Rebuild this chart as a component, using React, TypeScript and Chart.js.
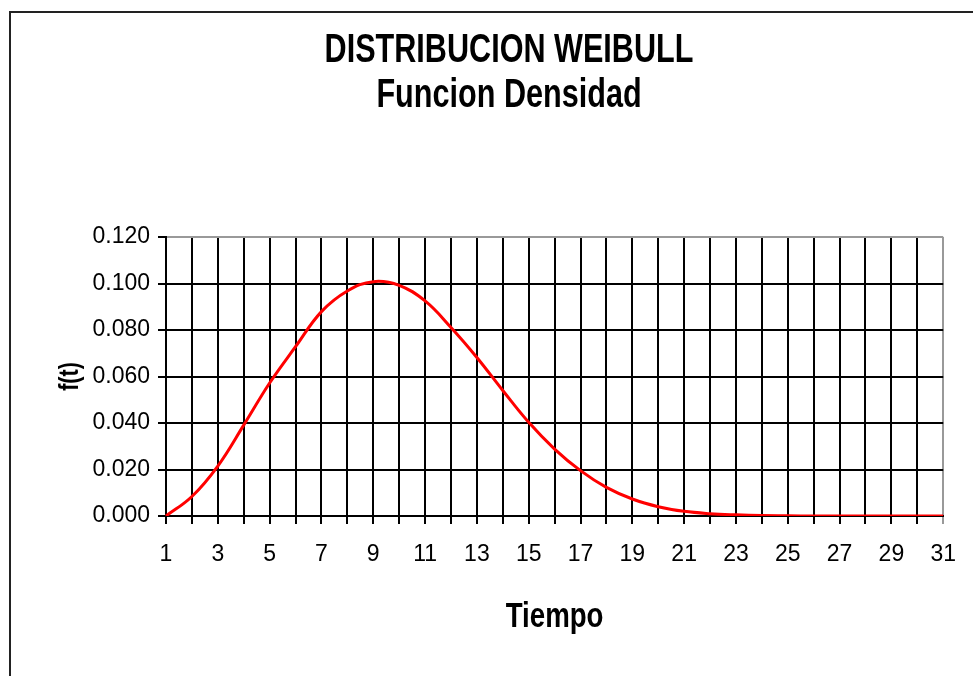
import React, { useEffect, useRef } from "react";
import { Chart, registerables } from "chart.js";

Chart.register(...registerables);

const tiempo: string[] = Array.from({ length: 31 }, (_, i) => String(i + 1));
const densidad: number[] = [
  0.0, 0.0084, 0.0215, 0.0391, 0.0572, 0.0728, 0.0879, 0.0968, 0.1008, 0.0992,
  0.0925, 0.0811, 0.0682, 0.054, 0.0403, 0.0288, 0.0195, 0.0123, 0.0073, 0.004,
  0.002, 0.001, 0.0005, 0.0002, 0.0001, 0.0, 0.0, 0.0, 0.0, 0.0, 0.0,
];
const titleLines: string[] = ["DISTRIBUCION WEIBULL", "Funcion Densidad"];
const yTitle = "f(t)";
const xTitle = "Tiempo";

const SANS = "'Liberation Sans', Arial, sans-serif";

function narrowText(
  ctx: CanvasRenderingContext2D,
  text: string,
  x: number,
  y: number,
  size: number,
  sx: number,
  rot: number
) {
  ctx.save();
  ctx.translate(x, y);
  if (rot) ctx.rotate(rot);
  ctx.scale(sx, 1);
  ctx.font = `bold ${size}px ${SANS}`;
  ctx.fillStyle = "#000";
  ctx.textAlign = "center";
  ctx.textBaseline = "alphabetic";
  ctx.fillText(text, 0, 0);
  ctx.restore();
}

const narrowTitles = {
  id: "narrowTitles",
  afterDraw(chart: any) {
    const ctx = chart.ctx as CanvasRenderingContext2D;
    const area = chart.chartArea;
    const cx = (area.left + area.right) / 2;
    narrowText(ctx, titleLines[0], 509, 62, 40, 0.765, 0);
    narrowText(ctx, titleLines[1], 509, 107, 40, 0.765, 0);
    narrowText(ctx, xTitle, cx, 627, 35, 0.79, 0);
    narrowText(ctx, yTitle, 78, (area.top + area.bottom) / 2, 28, 0.77, -Math.PI / 2);
  },
};

export default function App() {
  const ref = useRef<HTMLCanvasElement | null>(null);

  useEffect(() => {
    document.body.style.margin = "0";
    const canvas = ref.current;
    if (!canvas) return;
    const chart = new Chart(canvas, {
      type: "line",
      data: {
        labels: tiempo,
        datasets: [
          {
            data: densidad,
            borderColor: "#ff0000",
            borderWidth: 3,
            pointRadius: 0,
            tension: 0.4,
            fill: false,
          },
        ],
      },
      plugins: [narrowTitles],
      options: {
        animation: false,
        responsive: false,
        layout: { padding: { left: 0, right: 29, top: 237, bottom: 0 } },
        plugins: {
          legend: { display: false },
          tooltip: { enabled: false },
          title: { display: false },
        },
        scales: {
          x: {
            offset: false,
            border: { display: true, color: "#000", width: 2 },
            grid: {
              color: (c: any) => (c.index === tiempo.length - 1 ? "#999" : "#000"),
              lineWidth: 2,
              tickLength: 8,
              tickColor: (c: any) => (c.index === tiempo.length - 1 ? "#999" : "#000"),
            },
            ticks: {
              autoSkip: false,
              maxRotation: 0,
              color: "#000",
              padding: 17,
              font: { family: SANS, size: 23 },
              callback: (_v: any, i: number) => (i % 2 === 0 ? tiempo[i] : ""),
            },
            afterFit: (s: any) => {
              s.height = 160;
            },
          },
          y: {
            min: 0,
            max: 0.12,
            border: { display: true, color: "#000", width: 2 },
            grid: {
              color: (c: any) => (c.tick && Math.abs(c.tick.value - 0.12) < 1e-9 ? "#999" : "#000"),
              lineWidth: 2,
              tickLength: 8,
              tickColor: "#000",
            },
            ticks: {
              stepSize: 0.02,
              color: "#000",
              padding: 8,
              font: { family: SANS, size: 23 },
              callback: (v: any) => Number(v).toFixed(3),
            },
            afterFit: (s: any) => {
              s.width = 166;
            },
          },
        },
      },
    });
    return () => chart.destroy();
  }, []);

  return (
    <div style={{ position: "relative", width: 973, height: 676, overflow: "hidden", background: "#fff" }}>
      <div
        style={{
          position: "absolute",
          left: 9,
          top: 11,
          width: 1100,
          height: 800,
          borderLeft: "2px solid #222",
          borderTop: "2px solid #222",
        }}
      />
      <canvas ref={ref} width={973} height={676} style={{ position: "absolute", left: 0, top: 0, display: "block" }} />
    </div>
  );
}
